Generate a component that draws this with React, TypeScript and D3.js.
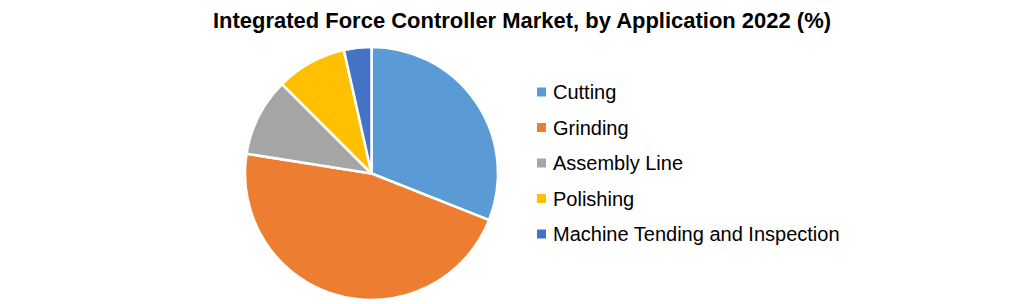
import React from "react";
import * as d3 from "d3";

const categories = ["Cutting", "Grinding", "Assembly Line", "Polishing", "Machine Tending and Inspection"];
const values = [31, 46.5, 10, 9, 3.5];
const colors = ["#5B9BD5", "#ED7D31", "#A5A5A5", "#FFC000", "#4472C4"];
const title = "Integrated Force Controller Market, by Application  2022 (%)";

export default function App() {
  const width = 1021;
  const height = 304;
  const cx = 371.5;
  const cy = 173.5;
  const r = 126.5;
  const pie = d3.pie<number>().sort(null).value((d) => d)(values);
  const arc = d3.arc<d3.PieArcDatum<number>>().innerRadius(0).outerRadius(r);
  const legendY = d3.scalePoint<string>().domain(categories).range([92, 234]);
  return (
    <svg width={width} height={height} style={{ position: "absolute", left: 0, top: 0, background: "#fff" }}>
      <rect width={width} height={height} fill="#fff" />
      <text x={522} y={28} textAnchor="middle" fontFamily="Liberation Sans, Arial, sans-serif" fontWeight="bold" fontSize={22} fill="#000" textLength={618} lengthAdjust="spacingAndGlyphs">
        {title}
      </text>
      <g transform={`translate(${cx},${cy})`}>
        {pie.map((p, i) => (
          <path key={i} d={arc(p) || ""} fill={colors[i]} stroke="#fff" strokeWidth={2.5} strokeLinejoin="round" />
        ))}
      </g>
      <g>
        {categories.map((c, i) => (
          <g key={c} transform={`translate(0,${legendY(c)})`}>
            <rect x={537} y={-4.5} width={9} height={9} fill={colors[i]} />
            <text x={553} y={0} dy="0.35em" fontFamily="Liberation Sans, Arial, sans-serif" fontSize={20} fill="#000">
              {c}
            </text>
          </g>
        ))}
      </g>
    </svg>
  );
}
